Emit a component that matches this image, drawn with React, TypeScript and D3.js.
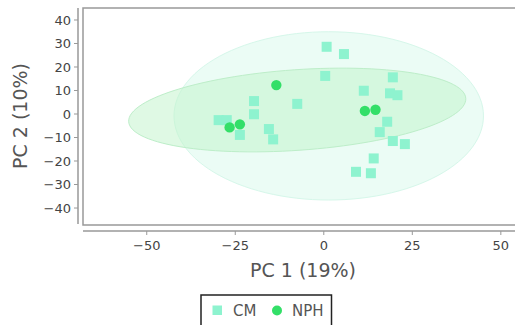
import React from "react";
import * as d3 from "d3";

const cmX = [-19.7, -19.7, -29.7, -27.4, -23.7, -15.5, -14.3, 0.8, 5.7, 0.4, 19.5, 11.3, 18.7, 20.8, -7.5, 17.9, 15.8, 19.5, 22.9, 14.1, 9.1, 13.3];
const cmY = [5.5, -0.1, -2.6, -2.6, -8.9, -6.4, -10.8, 28.6, 25.5, 16.2, 15.6, 9.9, 8.8, 8.0, 4.3, -3.3, -7.7, -11.5, -12.8, -18.9, -24.6, -25.2];
const nphX = [-13.4, -26.6, -23.7, 11.6, 14.6];
const nphY = [12.3, -5.7, -4.4, 1.3, 1.8];

// ellipses: center, and two conjugate semi-axis vectors (data units)
const cmEllipse = { cx: 1.4, cy: -0.8, ux: 43.7, uy: 0, vx: 0, vy: 35.8 };
const nphEllipse = { cx: -7.5, cy: 1.7, ux: 47.6, uy: 5.0, vx: 0.8, vy: -17.1 };

const xTicks = [-50, -25, 0, 25, 50];
const yTicks = [40, 30, 20, 10, 0, -10, -20, -30, -40];
const xTitle = "PC 1 (19%)";
const yTitle = "PC 2 (10%)";
const seriesNames = ["CM", "NPH"];

const W = 515, H = 325;
const font = "DejaVu Sans, sans-serif";

export default function App() {
  const x = d3.scaleLinear().domain([-68, 54]).range([83, 515]);
  const y = d3.scaleLinear().domain([-46.8, 45.1]).range([224, 8]);
  const fmt = (v: number) => (v < 0 ? "\u2212" + Math.abs(v) : String(v));

  const ellPath = (e: typeof cmEllipse) => {
    const pts: [number, number][] = d3.range(0, 361, 3).map((deg) => {
      const t = (deg * Math.PI) / 180;
      return [
        x(e.cx + e.ux * Math.cos(t) + e.vx * Math.sin(t)),
        y(e.cy + e.uy * Math.cos(t) + e.vy * Math.sin(t)),
      ];
    });
    return d3.line().curve(d3.curveLinearClosed)(pts) || "";
  };

  return (
    <svg width={W} height={H} style={{ position: "absolute", left: 0, top: 0 }}>
      <rect x={0} y={0} width={W} height={H} fill="#fff" />
      {/* plot frame */}
      <rect x={83} y={8} width={460} height={217} fill="none" stroke="#999" strokeWidth={1.5} />
      <defs>
        <clipPath id="plotclip">
          <rect x={83} y={8} width={460} height={217} />
        </clipPath>
      </defs>
      <g clipPath="url(#plotclip)">
        <path d={ellPath(cmEllipse)} fill="#ebfcf5" stroke="#d6f7ea" strokeWidth={1} />
        <path d={ellPath(nphEllipse)} fill="#bff3c9" fillOpacity={0.5} stroke="#bdeec9" strokeWidth={1} />
        {cmX.map((v, i) => (
          <rect key={"c" + i} x={x(v) - 5} y={y(cmY[i]) - 5} width={10} height={10} fill="#8ef3cf" />
        ))}
        {nphX.map((v, i) => (
          <circle key={"n" + i} cx={x(v)} cy={y(nphY[i])} r={5.2} fill="#33df68" />
        ))}
      </g>
      {/* y axis */}
      <line x1={78} x2={78} y1={8} y2={224} stroke="#999" strokeWidth={1.5} />
      {yTicks.map((t) => (
        <g key={"y" + t}>
          <line x1={74} x2={78} y1={y(t)} y2={y(t)} stroke="#999" />
          <text x={71} y={y(t)} dy="0.35em" textAnchor="end" fontSize={13} fontFamily={font} fill="#444">
            {fmt(t)}
          </text>
        </g>
      ))}
      {/* x axis */}
      <line x1={83} x2={515} y1={231} y2={231} stroke="#999" strokeWidth={1.5} />
      {xTicks.map((t) => (
        <g key={"x" + t}>
          <line x1={x(t)} x2={x(t)} y1={231} y2={235} stroke="#999" />
          <text x={x(t)} y={250} textAnchor="middle" fontSize={13} fontFamily={font} fill="#444">
            {fmt(t)}
          </text>
        </g>
      ))}
      <text x={303} y={277} textAnchor="middle" fontSize={19} fontFamily={font} fill="#555">
        {xTitle}
      </text>
      <text
        transform="translate(27,116) rotate(-90)"
        textAnchor="middle"
        fontSize={19}
        fontFamily={font}
        fill="#555"
      >
        {yTitle}
      </text>
      {/* legend */}
      <rect x={201} y={295} width={130.5} height={40} fill="#fff" stroke="#222" strokeWidth={1.5} />
      <rect x={212.5} y={305.5} width={9.5} height={9.5} fill="#8ef3cf" />
      <text x={233} y={316} fontSize={15} fontFamily={font} fill="#555">
        {seriesNames[0]}
      </text>
      <circle cx={277} cy={310.5} r={5} fill="#33df68" />
      <text x={292} y={316} fontSize={15} fontFamily={font} fill="#555">
        {seriesNames[1]}
      </text>
    </svg>
  );
}
